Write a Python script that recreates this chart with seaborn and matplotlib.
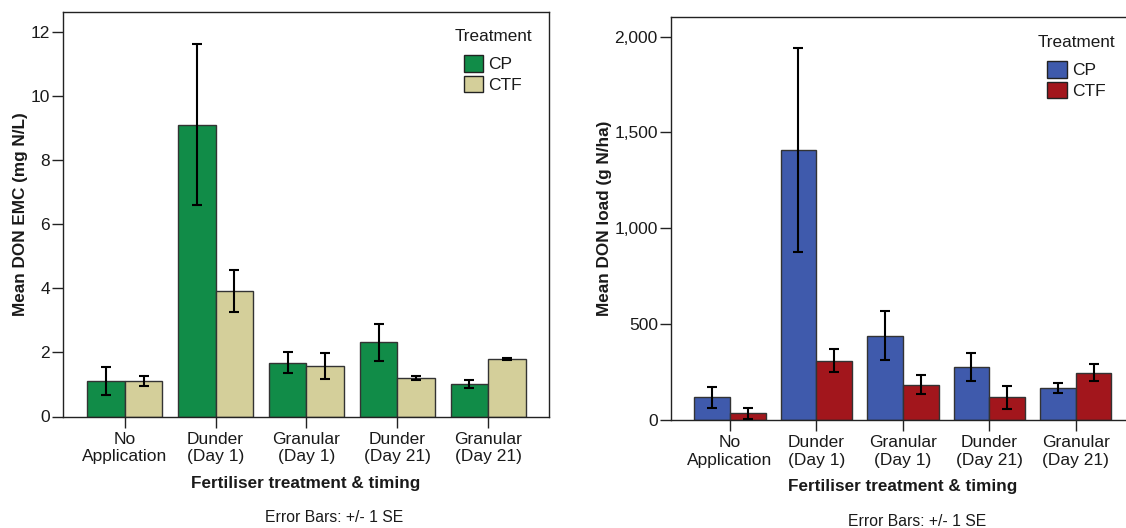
import numpy as np
import pandas as pd
import matplotlib
matplotlib.use("Agg")
import matplotlib.pyplot as plt
import seaborn as sns
from matplotlib.ticker import FuncFormatter

categories = ["No\nApplication", "Dunder\n(Day 1)", "Granular\n(Day 1)", "Dunder\n(Day 21)", "Granular\n(Day 21)"]
treatments = ["CP", "CTF"]

emc_cp = [1.10, 9.11, 1.68, 2.32, 1.02]
emc_ctf = [1.10, 3.92, 1.58, 1.19, 1.79]
emc_cp_se = [0.44, 2.51, 0.33, 0.58, 0.13]
emc_ctf_se = [0.16, 0.645, 0.41, 0.06, 0.03]

load_cp = [118, 1407, 440, 275, 168]
load_ctf = [35, 310, 184, 118, 247]
load_cp_se = [54, 532, 127, 74, 27]
load_ctf_se = [30, 58, 50, 59, 45]

sns.set_style("ticks")
plt.rcParams["font.family"] = ["Liberation Sans", "DejaVu Sans"]
plt.rcParams["text.color"] = "#1a1a1a"
plt.rcParams["axes.labelcolor"] = "#1a1a1a"
plt.rcParams["xtick.color"] = "#1a1a1a"
plt.rcParams["ytick.color"] = "#1a1a1a"

fig = plt.figure(figsize=(11.26, 5.28), dpi=100)
W, H = 1126, 528

def px_axes(x0, x1, ytop, ybot):
    return fig.add_axes([x0 / W, 1 - ybot / H, (x1 - x0) / W, (ybot - ytop) / H])

ax1 = px_axes(63, 549, 12, 416.5)
ax2 = px_axes(671, 1133.7, 16.7, 420)

def draw(ax, cp, ctf, cp_se, ctf_se, colors, ylabel, ymax, yticks, fmt, ylabel_x, leg_anchor):
    df = pd.DataFrame({
        "cat": categories * 2,
        "trt": ["CP"] * 5 + ["CTF"] * 5,
        "val": list(cp) + list(ctf),
    })
    sns.barplot(data=df, x="cat", y="val", hue="trt", order=categories, hue_order=treatments,
                palette=colors, width=0.826, gap=0, edgecolor="#333333", linewidth=1.0,
                errorbar=None, ax=ax, saturation=1)
    for cont, se in zip(ax.containers, [cp_se, ctf_se]):
        xs = [b.get_x() + b.get_width() / 2 for b in cont]
        ys = [b.get_height() for b in cont]
        ax.errorbar(xs, ys, yerr=se, fmt="none", ecolor="black", elinewidth=1.5,
                    capsize=3.6, capthick=1.5, zorder=5)
    ax.set_xlim(-0.68, 4.67)
    ax.set_ylim(0, ymax)
    ax.set_yticks(yticks)
    ax.yaxis.set_major_formatter(FuncFormatter(fmt))
    for s in ax.spines.values():
        s.set_visible(True)
        s.set_color("#222222")
        s.set_linewidth(1.0)
    ax.tick_params(axis="both", length=8, width=1.0, pad=1.5, labelsize=12.5, color="#222222")
    ax.tick_params(axis="x", pad=3)
    ax.set_xlabel("Fertiliser treatment & timing", fontsize=12.3, fontweight="bold")
    ax.xaxis.set_label_coords(0.5, -0.146)
    ax.set_ylabel(ylabel, fontsize=12.3, fontweight="bold")
    ax.yaxis.set_label_coords(ylabel_x, 0.5)
    leg = ax.legend(title="Treatment", loc="upper right", bbox_to_anchor=leg_anchor,
                    frameon=False, fontsize=12.5, title_fontsize=12.3, borderaxespad=0,
                    borderpad=0, handlelength=1.1, handleheight=1.1, handletextpad=0.3,
                    labelspacing=0.2)
    leg._legend_box.sep = 8
    for h in leg.legend_handles:
        h.set_edgecolor("#222222")
        h.set_linewidth(1.0)

draw(ax1, emc_cp, emc_ctf, emc_cp_se, emc_ctf_se, ["#118C48", "#D4CF9A"],
     "Mean DON EMC (mg N/L)", 12.63, [0, 2, 4, 6, 8, 10, 12],
     lambda v, p: f"{v:g}", -0.072, (0.965, 0.958))
draw(ax2, load_cp, load_ctf, load_cp_se, load_ctf_se, ["#3F5AAC", "#A2161C"],
     "Mean DON load (g N/ha)", 2104, [0, 500, 1000, 1500, 2000],
     lambda v, p: f"{int(v):,}", -0.1275, (0.96, 0.955))

fig.text(334 / W, 1 - 518 / H, "Error Bars: +/- 1 SE", ha="center", va="center", fontsize=11.3)
fig.text(917.5 / W, 1 - 521 / H, "Error Bars: +/- 1 SE", ha="center", va="center", fontsize=11.3)

fig.savefig("out.png", dpi=100)
